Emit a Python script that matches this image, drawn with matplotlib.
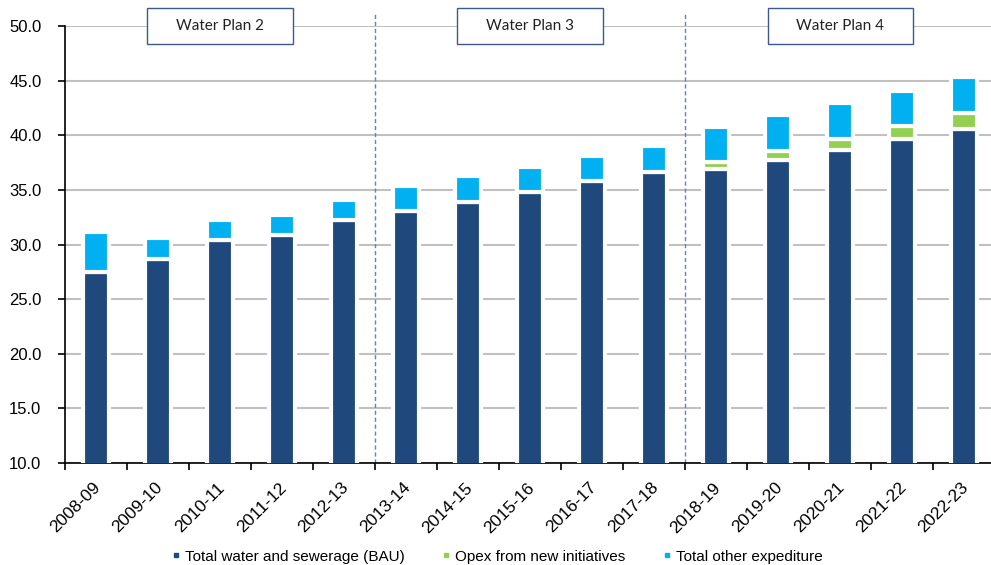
import numpy as np
import matplotlib.pyplot as plt
import matplotlib.transforms as mtransforms
from matplotlib.lines import Line2D
from matplotlib.patches import Rectangle

years = ["2008-09", "2009-10", "2010-11", "2011-12", "2012-13", "2013-14", "2014-15",
         "2015-16", "2016-17", "2017-18", "2018-19", "2019-20", "2020-21", "2021-22", "2022-23"]
bau = [27.46, 28.65, 30.38, 30.87, 32.26, 33.11, 33.93, 34.85, 35.77, 36.68,
       36.93, 37.78, 38.68, 39.64, 40.56]
opex_new = [0, 0, 0, 0, 0, 0, 0, 0, 0, 0, 0.65, 0.82, 1.02, 1.22, 1.52]
other = [3.69, 1.91, 1.86, 1.8, 1.78, 2.27, 2.3, 2.27, 2.3, 2.33,
         3.21, 3.22, 3.25, 3.23, 3.21]
plans = ["Water Plan 2", "Water Plan 3", "Water Plan 4"]
plan_centres = [2, 7, 12]
plan_breaks = [4.5, 9.5]

navy = "#1F497D"
green = "#92D050"
cyan = "#00B0F0"

plt.rcParams['font.family'] = ['Liberation Sans', 'DejaVu Sans']

fig = plt.figure(figsize=(9.91, 5.65), dpi=100)
ax = fig.add_axes([0.0656, 0.1805, 0.9385, 0.7735])

x = np.arange(len(years))
bau = np.array(bau)
opex_new = np.array(opex_new)
other = np.array(other)
w = 0.41
has_new = opex_new > 0
ax.bar(x, bau, w, color=navy, edgecolor="white", linewidth=3, zorder=3)
ax.bar(x[has_new], opex_new[has_new], w, bottom=bau[has_new],
       color=green, edgecolor="white", linewidth=3, zorder=3)
ax.bar(x, other, w, bottom=bau + opex_new, color=cyan, edgecolor="white",
       linewidth=3, zorder=3)

ax.set_xlim(-0.5, len(years) - 0.5)
ax.set_ylim(10, 50)
ax.set_yticks(np.arange(10, 51, 5))
ax.set_yticklabels([f"{v:.1f}" for v in np.arange(10, 51, 5)], fontsize=12)
ax.yaxis.grid(True, color="#C0C0C0", linewidth=1.5, zorder=0)
ax.set_axisbelow(True)

ax.set_xticks(x)
ax.set_xticklabels(years, rotation=45, ha="right", va="center",
                   rotation_mode="anchor", fontsize=12.5)
ax.set_xticks(np.arange(-0.5, len(years), 1), minor=True)
ax.tick_params(axis="x", which="major", length=0, pad=16)
ax.tick_params(axis="x", which="minor", length=5, width=1.2, direction="out")
ax.tick_params(axis="y", length=5, width=1.2, pad=12)
shift = mtransforms.ScaledTranslation(0.02, 0, fig.dpi_scale_trans)
for lab in ax.get_xticklabels():
    lab.set_transform(lab.get_transform() + shift)

for s in ["top", "right"]:
    ax.spines[s].set_visible(False)
for s in ["left", "bottom"]:
    ax.spines[s].set_linewidth(1.2)
    ax.spines[s].set_color("black")

for b in plan_breaks:
    ax.axvline(b, ymin=0, ymax=1.032, color="#5B84C4", linestyle=(0, (3, 2)),
               linewidth=1.0, clip_on=False, zorder=2)

bw = 2.34
bh = 3.3
for name, c in zip(plans, plan_centres):
    ax.add_patch(Rectangle((c - bw / 2, 50 - bh / 2), bw, bh, facecolor="white",
                           edgecolor="#3D5A8C", linewidth=1.0, clip_on=False, zorder=5))
    ax.text(c, 50, name, ha="center", va="center", fontsize=11,
            family=["Lato", "DejaVu Sans"], color="#222222", zorder=6)

handles = [Line2D([], [], marker="s", linestyle="none", markersize=3.5, color=navy),
           Line2D([], [], marker="s", linestyle="none", markersize=3.5, color=green),
           Line2D([], [], marker="s", linestyle="none", markersize=3.5, color=cyan)]
labels = ["Total water and sewerage (BAU)", "Opex from new initiatives",
          "Total other expediture"]
fig.legend(handles, labels, loc="lower center", bbox_to_anchor=(0.5, -0.022), ncol=3,
           frameon=False, fontsize=11, handletextpad=0.1, columnspacing=2.2,
           handlelength=1.0)

fig.savefig("out.png", dpi=100)
